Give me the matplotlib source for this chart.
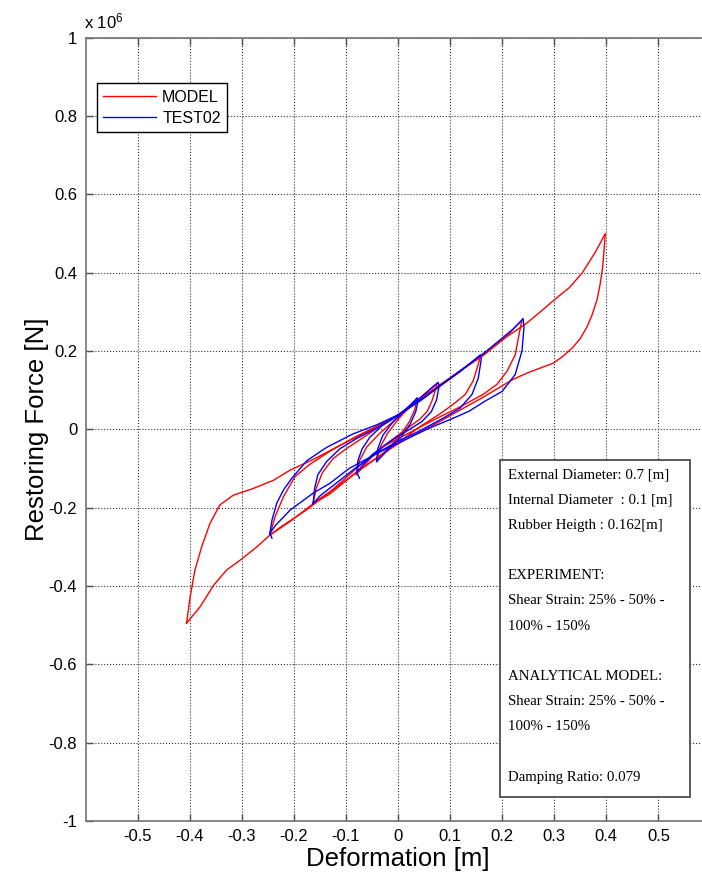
import matplotlib
matplotlib.use("Agg")
import matplotlib.pyplot as plt
from matplotlib.patches import Rectangle

plt.rcParams['font.family'] = ['Liberation Sans', 'DejaVu Sans']
plt.rcParams['mathtext.fontset'] = 'custom'
plt.rcParams['mathtext.rm'] = 'Liberation Sans'
plt.rcParams['mathtext.it'] = 'Liberation Sans:italic'
plt.rcParams['mathtext.bf'] = 'Liberation Sans:bold'

# ---- data: displacement [m], force [x 1e6 N] ----
# MODEL, large loop (0.40 m)
model_40_x = [-0.406, -0.399, -0.39, -0.377, -0.361, -0.342, -0.316, -0.278, -0.239, -0.207,
              -0.16, -0.113, -0.05, 0.0, 0.04, 0.08, 0.12, 0.163, 0.207, 0.246, 0.275, 0.303,
              0.329, 0.354, 0.38, 0.398,
              0.396, 0.393, 0.388, 0.382, 0.372, 0.363, 0.35, 0.336, 0.318, 0.298, 0.27, 0.248,
              0.22, 0.196, 0.157, 0.12, 0.075, 0.03, 0.0, -0.04, -0.08, -0.131, -0.163, -0.207,
              -0.246, -0.271, -0.303, -0.329, -0.354, -0.38, -0.406]
model_40_y = [-0.495, -0.427, -0.36, -0.3, -0.24, -0.193, -0.168, -0.151, -0.13, -0.104,
              -0.075, -0.042, 0.0, 0.037, 0.075, 0.113, 0.15, 0.188, 0.235, 0.27, 0.302, 0.334,
              0.362, 0.4, 0.455, 0.5,
              0.465, 0.414, 0.37, 0.33, 0.29, 0.262, 0.232, 0.21, 0.188, 0.169, 0.155, 0.144,
              0.127, 0.108, 0.077, 0.05, 0.016, -0.015, -0.037, -0.072, -0.11, -0.165, -0.19, -0.235,
              -0.27, -0.3, -0.334, -0.359, -0.398, -0.453, -0.495]

# MODEL, 150% loop
model_24_x = [-0.246, -0.236, -0.22, -0.198, -0.17, -0.13, -0.08, -0.03, 0.0, 0.04, 0.08, 0.12,
              0.163, 0.207, 0.238,
              0.231, 0.225, 0.209, 0.19, 0.163, 0.12, 0.07, 0.02, -0.03, -0.08, -0.131, -0.175,
              -0.226, -0.246]
model_24_y = [-0.27, -0.223, -0.172, -0.121, -0.09, -0.055, -0.018, 0.015, 0.035, 0.073, 0.112, 0.15,
              0.19, 0.236, 0.279,
              0.233, 0.19, 0.148, 0.115, 0.089, 0.058, 0.025, -0.01, -0.045, -0.1, -0.16, -0.205,
              -0.25, -0.27]

# MODEL, 100% loop
model_16_x = [-0.163, -0.157, -0.145, -0.125, -0.1, -0.06, -0.02, 0.0, 0.04, 0.08, 0.12, 0.158,
              0.154, 0.144, 0.129, 0.106, 0.081, 0.04, 0.0, -0.04, -0.08, -0.12, -0.163]
model_16_y = [-0.188, -0.15, -0.11, -0.075, -0.05, -0.015, 0.02, 0.037, 0.075, 0.113, 0.15, 0.186,
              0.166, 0.123, 0.089, 0.064, 0.04, 0.005, -0.035, -0.072, -0.11, -0.15, -0.188]

# MODEL, 50% loop
model_08_x = [-0.08, -0.074, -0.06, -0.035, -0.005, 0.035, 0.075,
              0.071, 0.065, 0.056, 0.042, 0.015, -0.02, -0.05, -0.08]
model_08_y = [-0.115, -0.08, -0.045, -0.01, 0.025, 0.07, 0.117,
              0.097, 0.072, 0.046, 0.026, 0.0, -0.035, -0.07, -0.115]

# MODEL, 25% loop
model_04_x = [-0.041, -0.034, -0.02, 0.0, 0.02, 0.037,
              0.032, 0.022, 0.006, -0.015, -0.03, -0.041]
model_04_y = [-0.08, -0.045, -0.01, 0.025, 0.055, 0.08,
              0.05, 0.02, -0.012, -0.045, -0.063, -0.08]

# TEST02, 150% loop
test_24_x = [-0.242, -0.246, -0.242, -0.233, -0.22, -0.204, -0.175, -0.137, -0.087, -0.04, 0.0,
             0.045, 0.105, 0.17, 0.22, 0.235, 0.24,
             0.242, 0.238, 0.225, 0.2, 0.167, 0.136, 0.1, 0.06, 0.008, -0.044, -0.094, -0.131,
             -0.163, -0.207, -0.235, -0.246]
test_24_y = [-0.278, -0.265, -0.232, -0.189, -0.155, -0.125, -0.08, -0.046, -0.012, 0.012, 0.037,
             0.075, 0.135, 0.2, 0.255, 0.275, 0.283,
             0.262, 0.2, 0.14, 0.097, 0.072, 0.046, 0.025, 0.003, -0.03, -0.064, -0.1, -0.138,
             -0.163, -0.206, -0.245, -0.265]

# TEST02, 100% loop
test_16_x = [-0.163, -0.16, -0.154, -0.137, -0.112, -0.079, -0.041, 0.0, 0.04, 0.08, 0.12, 0.158,
             0.16, 0.154, 0.142, 0.119, 0.086, 0.04, 0.0, -0.04, -0.083, -0.121, -0.15, -0.163]
test_16_y = [-0.19, -0.15, -0.116, -0.082, -0.05, -0.023, 0.003, 0.035, 0.072, 0.11, 0.148, 0.19,
             0.18, 0.13, 0.089, 0.054, 0.028, -0.005, -0.03, -0.06, -0.1, -0.14, -0.17, -0.19]

# TEST02, 50% loop
test_08_x = [-0.074, -0.079, -0.077, -0.069, -0.054, -0.03, 0.0, 0.04, 0.077,
             0.079, 0.074, 0.064, 0.046, 0.016, -0.02, -0.05, -0.07, -0.079]
test_08_y = [-0.125, -0.11, -0.08, -0.05, -0.02, 0.01, 0.035, 0.078, 0.12,
             0.112, 0.075, 0.045, 0.02, -0.005, -0.035, -0.065, -0.095, -0.11]

# TEST02, 25% loop
test_04_x = [-0.041, -0.039, -0.029, -0.012, 0.01, 0.037,
             0.039, 0.034, 0.024, 0.006, -0.014, -0.032, -0.041]
test_04_y = [-0.082, -0.05, -0.015, 0.015, 0.045, 0.08,
             0.075, 0.045, 0.015, -0.02, -0.045, -0.07, -0.082]

x_ticks = [-0.5, -0.4, -0.3, -0.2, -0.1, 0, 0.1, 0.2, 0.3, 0.4, 0.5]
x_tick_labels = ['-0.5', '-0.4', '-0.3', '-0.2', '-0.1', '0', '0.1', '0.2', '0.3', '0.4', '0.5']
y_ticks = [-1, -0.8, -0.6, -0.4, -0.2, 0, 0.2, 0.4, 0.6, 0.8, 1]
y_tick_labels = ['-1', '-0.8', '-0.6', '-0.4', '-0.2', '0', '0.2', '0.4', '0.6', '0.8', '1']

box_lines = ['External Diameter: 0.7 [m]',
             'Internal Diameter  : 0.1 [m]',
             'Rubber Heigth : 0.162[m]',
             '',
             'EXPERIMENT:',
             'Shear Strain: 25% - 50% -',
             '100% - 150%',
             '',
             'ANALYTICAL MODEL:',
             'Shear Strain: 25% - 50% -',
             '100% - 150%',
             '',
             'Damping Ratio: 0.079']

# ---- figure ----
W, H = 702, 874
fig = plt.figure(figsize=(W / 100, H / 100), dpi=100)
ax = fig.add_axes([85.5 / W, 1 - 821 / H, 625 / W, 783.3 / H])

model_loops = [(model_40_x, model_40_y), (model_24_x, model_24_y), (model_16_x, model_16_y),
               (model_08_x, model_08_y), (model_04_x, model_04_y)]
test_loops = [(test_24_x, test_24_y), (test_16_x, test_16_y),
              (test_08_x, test_08_y), (test_04_x, test_04_y)]

for i, (lx, ly) in enumerate(model_loops):
    ax.plot(lx, ly, color='red', lw=1.0, label='MODEL' if i == 0 else None)
for i, (lx, ly) in enumerate(test_loops):
    ax.plot(lx, ly, color='blue', lw=1.0, label='TEST02' if i == 0 else None)

ax.set_xlim(-0.6, 0.6)
ax.set_ylim(-1, 1)
ax.set_xticks(x_ticks)
ax.set_xticklabels(x_tick_labels)
ax.set_yticks(y_ticks)
ax.set_yticklabels(y_tick_labels)
ax.grid(True, linestyle=':', color='0.2', linewidth=0.8)
ax.tick_params(direction='in', length=5, width=1, top=True, right=True,
               labelsize=12, color='0.3', pad=6)
for s in ax.spines.values():
    s.set_color('0.45')
    s.set_linewidth(1.2)

ax.set_xlabel('Deformation [m]', fontsize=18.5, labelpad=2)
ax.set_ylabel('Restoring Force [N]', fontsize=18.5, labelpad=0)

# exponent label, top-left
fig.text(84 / W, 1 - 28 / H, r'x 10$^{6}$', fontsize=12, va='baseline')

leg = ax.legend(loc='upper left', bbox_to_anchor=(0.018, 0.942), borderaxespad=0,
                fancybox=False, edgecolor='black', framealpha=1, fontsize=11.5,
                handlelength=3.3, handletextpad=0.4, labelspacing=0.4)
leg.get_frame().set_linewidth(1.0)

# annotation box
fig.add_artist(Rectangle((500 / W, 1 - 797 / H), 190 / W, 337 / H, transform=fig.transFigure,
                         facecolor='white', edgecolor='0.3', lw=1.3, zorder=5))
for i, line in enumerate(box_lines):
    fig.text(508 / W, 1 - (475 + 25.2 * i) / H, line, family='Liberation Serif',
             fontsize=10.7, va='center', ha='left', zorder=6)

fig.savefig('out.png', dpi=100)
